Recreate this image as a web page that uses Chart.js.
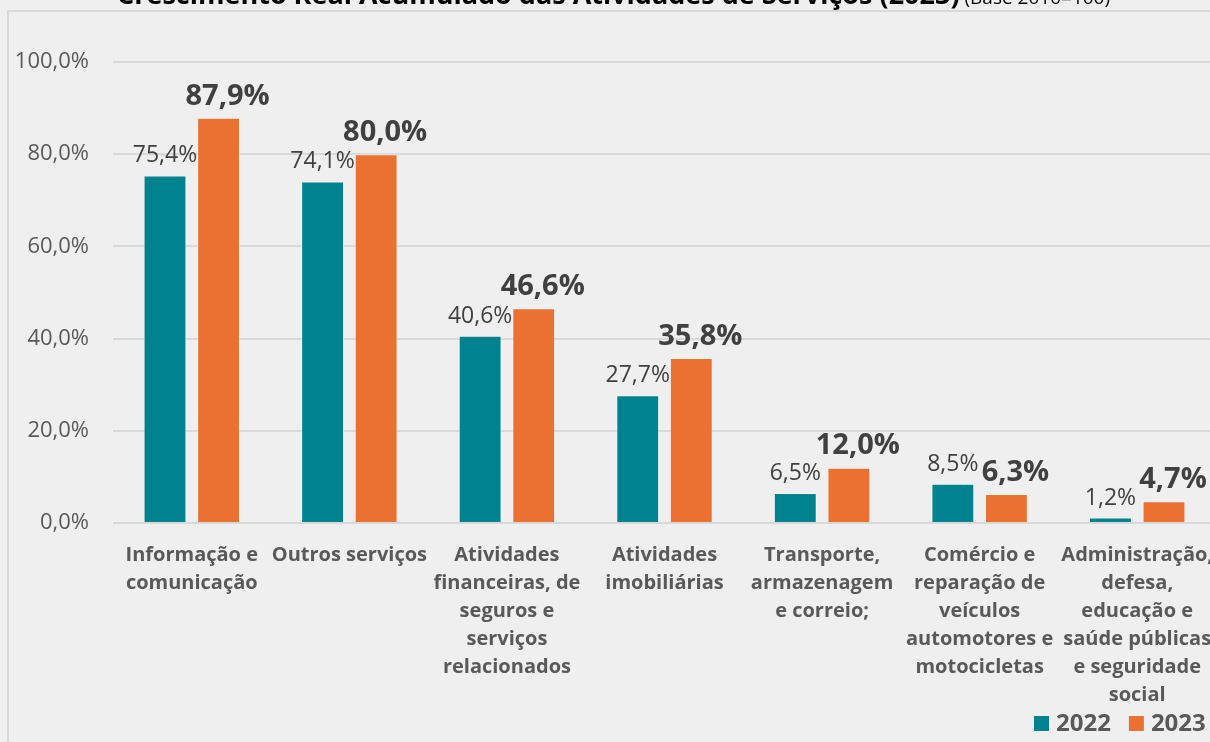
<!DOCTYPE html>
<html>
<head>
<meta charset="utf-8">
<script src="https://cdn.jsdelivr.net/npm/chart.js@4"></script>
<style>
  html, body { margin: 0; padding: 0; background: #f0eff0; overflow: hidden; }
  #wrap { width: 1210px; height: 742px; position: relative; overflow: hidden; }
</style>
</head>
<body>
<div id="wrap"><canvas id="chart" width="1216" height="742"></canvas></div>
<script>
const categories = [
    ['Informação e', 'comunicação'],
    ['Outros serviços'],
    ['Atividades', 'financeiras, de', 'seguros e', 'serviços', 'relacionados'],
    ['Atividades', 'imobiliárias'],
    ['Transporte,', 'armazenagem', 'e correio;'],
    ['Comércio e', 'reparação de', 'veículos', 'automotores e', 'motocicletas'],
    ['Administração,', 'defesa,', 'educação e', 'saúde públicas', 'e seguridade', 'social']
];
const values2022 = [75.4, 74.1, 40.6, 27.7, 6.5, 8.5, 1.2];
const values2023 = [87.9, 80.0, 46.6, 35.8, 12.0, 6.3, 4.7];
const yTicks = [0, 20, 40, 60, 80, 100];

const FONT = '"Open Sans", "Noto Sans", sans-serif';
const fmt = v => v.toFixed(1).replace('.', ',') + '%';

// frame + cut-off title at the top
const framePlugin = {
    id: 'frame',
    beforeDraw(chart) {
        const c = chart.ctx;
        c.save();
        c.strokeStyle = '#d9d9d9';
        c.lineWidth = 2;
        c.beginPath();
        c.moveTo(8, 742);
        c.lineTo(8, 11);
        c.lineTo(1216, 11);
        c.stroke();
        c.fillStyle = '#000000';
        c.textBaseline = 'alphabetic';
        c.font = 'bold 27px ' + FONT;
        const t = 'Crescimento Real Acumulado das Atividades de Serviços (2023)';
        c.fillText(t, 117, 4);
        const w = c.measureText(t).width;
        c.font = '19px ' + FONT;
        c.fillText(' (Base 2010=100)', 117 + w, 4);
        c.restore();
    }
};

const labelPlugin = {
    id: 'barLabels',
    afterDatasetsDraw(chart) {
        const c = chart.ctx;
        c.save();
        c.textAlign = 'center';
        c.textBaseline = 'bottom';
        c.fillStyle = '#404040';
        chart.data.datasets.forEach((ds, i) => {
            const meta = chart.getDatasetMeta(i);
            c.font = (i === 0 ? '23px ' : 'bold 29px ') + FONT;
            meta.data.forEach((bar, j) => {
                const dx = i === 0 ? 0 : 9;
                c.fillText(fmt(ds.data[j]), bar.x + dx, bar.y - (i === 0 ? 8 : 7));
            });
        });
        c.restore();
    }
};

// legend in the bottom right corner
const legendPlugin = {
    id: 'cornerLegend',
    afterDraw(chart) {
        const c = chart.ctx;
        c.save();
        c.font = 'bold 24px ' + FONT;
        c.textBaseline = 'middle';
        let x = 1034;
        chart.data.datasets.forEach(ds => {
            c.fillStyle = ds.backgroundColor;
            c.fillRect(x, 716, 15, 15);
            c.fillStyle = '#595959';
            c.fillText(ds.label, x + 22, 724);
            x += 22 + c.measureText(ds.label).width + 18;
        });
        c.restore();
    }
};

new Chart(document.getElementById('chart'), {
    type: 'bar',
    data: {
        labels: categories,
        datasets: [
            { label: '2022', data: values2022, backgroundColor: '#00838f', borderColor: 'rgba(255,255,255,0.45)', borderWidth: 1 },
            { label: '2023', data: values2023, backgroundColor: '#eb7132', borderColor: 'rgba(255,255,255,0.45)', borderWidth: 1 }
        ]
    },
    options: {
        responsive: false,
        animation: false,
        devicePixelRatio: 1,
        layout: { padding: { top: 62, left: 0, right: 0, bottom: 0 } },
        datasets: { bar: { categoryPercentage: 0.68, barPercentage: 0.8 } },
        plugins: {
            legend: { display: false },
            tooltip: { enabled: false }
        },
        scales: {
            x: {
                grid: { display: false },
                border: { display: false },
                ticks: {
                    color: '#595959',
                    padding: 10,
                    maxRotation: 0,
                    autoSkip: false,
                    font: { family: FONT, size: 20, weight: 'bold', lineHeight: 1.4 }
                },
                afterFit(s) {
                    s.height = 742 - 523;
                    s.paddingLeft = 0;
                    s.paddingRight = 0;
                }
            },
            y: {
                min: 0,
                max: 100,
                afterBuildTicks(s) { s.ticks = yTicks.map(v => ({ value: v })); },
                grid: { color: '#d9d9d9', lineWidth: 2, drawTicks: false },
                border: { display: false },
                ticks: {
                    color: '#595959',
                    padding: 24,
                    font: { family: FONT, size: 22 },
                    callback: v => fmt(v)
                },
                afterFit(s) { s.width = 113; }
            }
        }
    },
    plugins: [framePlugin, labelPlugin, legendPlugin]
});
</script>
</body>
</html>
